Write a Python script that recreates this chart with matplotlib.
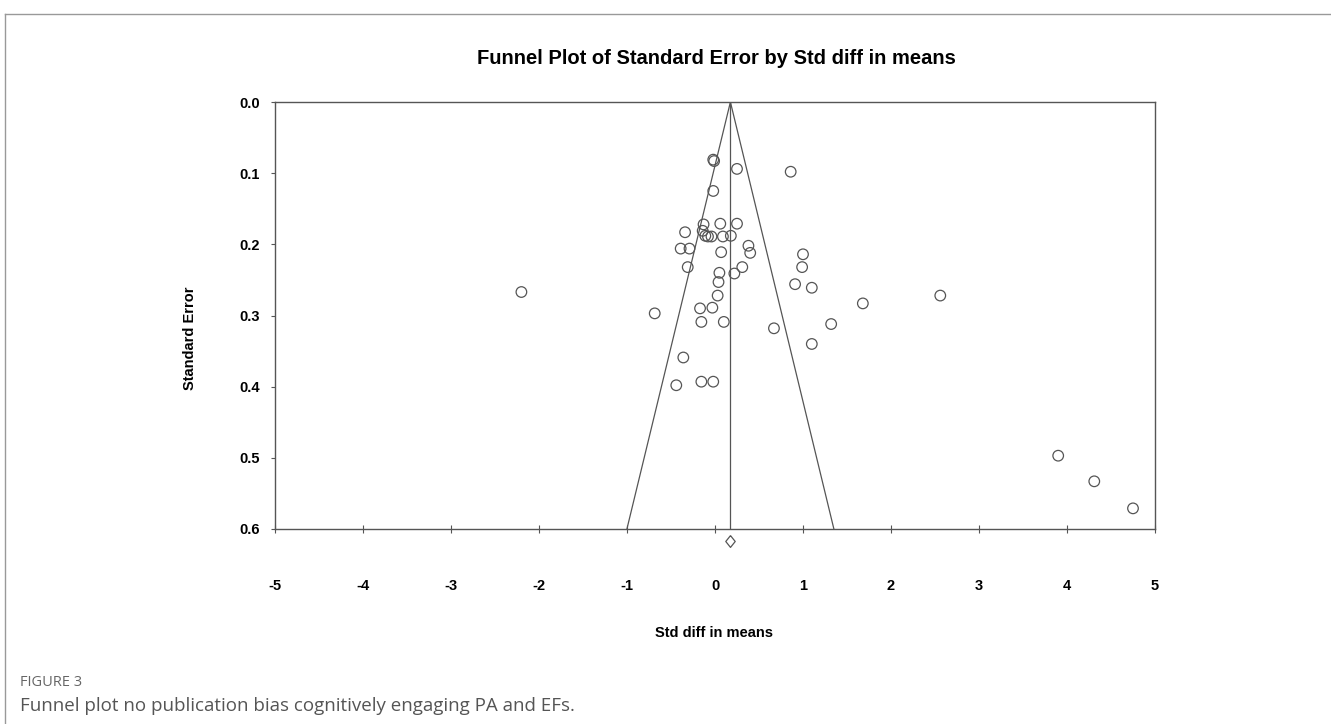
import matplotlib
matplotlib.use("Agg")
import matplotlib.pyplot as plt
from matplotlib.lines import Line2D

# Std diff in means (x) and standard error (y) for each study
effect = [-0.02, -0.01, 0.25, 0.86, -0.02, -0.13, 0.06, 0.25, -0.34, -0.14,
          -0.11, -0.08, -0.04, 0.09, 0.18, -0.39, -0.29, 0.38, 0.40, 0.07,
          1.00, -0.31, 0.31, 0.99, 0.05, 0.22, 0.04, 0.91, 1.10, 0.03,
          2.56, 1.68, -2.20, -0.685, -0.17, -0.03, -0.155, 0.10, 0.67, 1.32,
          1.10, -0.36, -0.44, -0.155, -0.02, 3.90, 4.31, 4.75]
std_err = [0.081, 0.083, 0.094, 0.098, 0.125, 0.172, 0.171, 0.171, 0.183, 0.181,
           0.188, 0.189, 0.189, 0.189, 0.188, 0.206, 0.206, 0.202, 0.212, 0.211,
           0.214, 0.232, 0.232, 0.232, 0.240, 0.241, 0.253, 0.256, 0.261, 0.272,
           0.272, 0.283, 0.267, 0.297, 0.290, 0.289, 0.309, 0.309, 0.318, 0.312,
           0.340, 0.359, 0.398, 0.393, 0.393, 0.497, 0.533, 0.571]

mean_effect = 0.175
se_max = 0.6
x_ticks = [-5, -4, -3, -2, -1, 0, 1, 2, 3, 4, 5]
y_ticks = [0.0, 0.1, 0.2, 0.3, 0.4, 0.5, 0.6]

title = "Funnel Plot of Standard Error by Std diff in means"
fig_label = "FIGURE 3"
caption = "Funnel plot no publication bias cognitively engaging PA and EFs."

plt.rcParams["font.family"] = ["Liberation Sans", "DejaVu Sans"]

W, H = 1331, 724
fig = plt.figure(figsize=(W / 100, H / 100), dpi=100)
ax = fig.add_axes([275 / W, 1 - 529 / H, 880 / W, 427 / H])

grey = "#555555"

# funnel and mean line
ax.plot([mean_effect, mean_effect], [0, se_max], color=grey, lw=0.9)
ax.plot([mean_effect - 1.96 * se_max, mean_effect, mean_effect + 1.96 * se_max],
        [se_max, 0, se_max], color=grey, lw=0.9)

ax.scatter(effect, std_err, s=58, facecolors="none", edgecolors=grey,
           linewidths=0.9, zorder=3)

# summary diamond below the axis
diamond = [(0, 1), (0.8, 0), (0, -1), (-0.8, 0), (0, 1)]
ax.plot([mean_effect], [0.6175], marker=diamond, markersize=8.5,
        markerfacecolor="white", markeredgecolor=grey, markeredgewidth=0.9,
        clip_on=False, linestyle="none")

ax.set_xlim(-5, 5)
ax.set_ylim(0.6, 0.0)
ax.set_xticks(x_ticks)
ax.set_xticklabels([str(t) for t in x_ticks])
ax.set_yticks(y_ticks)
ax.set_yticklabels(["%.1f" % t for t in y_ticks])

for s in ax.spines.values():
    s.set_color(grey)
    s.set_linewidth(1.0)

ax.tick_params(axis="x", direction="inout", length=6, width=0.8, color=grey,
               pad=33, labelsize=10.5)
ax.tick_params(axis="y", direction="out", length=3, width=0.8, color=grey,
               pad=8, labelsize=10.5)
for lab in ax.get_xticklabels() + ax.get_yticklabels():
    lab.set_fontweight("bold")

fig.text(716 / W, 1 - 58 / H, title, ha="center", va="center",
         fontsize=14.5, fontweight="bold")
fig.text(190 / W, 1 - 338 / H, "Standard Error", rotation=90, ha="center",
         va="center", fontsize=10.5, fontweight="bold")
fig.text(714 / W, 1 - 633 / H, "Std diff in means", ha="center", va="center",
         fontsize=10.5, fontweight="bold")

# caption block
fig.text(20 / W, 1 - 682 / H, fig_label, ha="left", va="center", fontsize=10.5,
         color="#666666", family=["Open Sans", "DejaVu Sans"])
fig.text(20 / W, 1 - 706 / H, caption, ha="left", va="center", fontsize=13.5,
         color="#555555", family=["Open Sans", "DejaVu Sans"])

# page frame (top and left)
fig.add_artist(Line2D([5 / W, 5 / W], [0, 1 - 14 / H], color="#999999",
                      lw=1.0, transform=fig.transFigure))
fig.add_artist(Line2D([5 / W, 1], [1 - 14 / H, 1 - 14 / H], color="#999999",
                      lw=1.0, transform=fig.transFigure))

fig.savefig("out.png", dpi=100)
